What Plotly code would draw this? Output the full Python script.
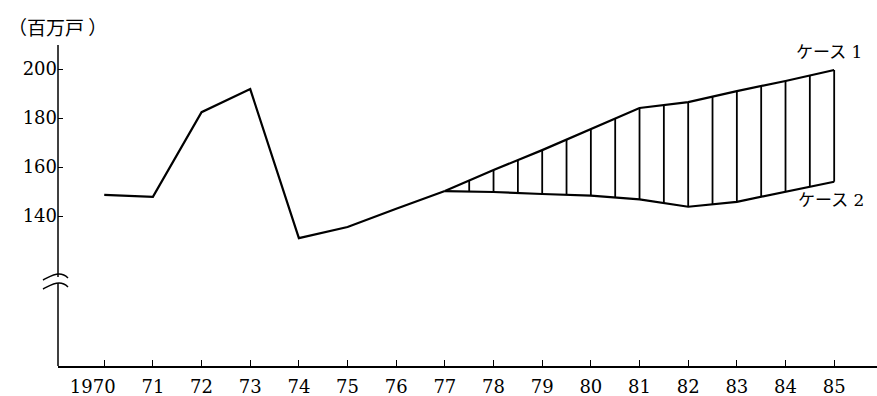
import plotly.graph_objects as go
import numpy as np

# ---- data ----
hist_years = [1970, 1971, 1972, 1973, 1974, 1975, 1976, 1977]
hist_values = [148.6, 147.8, 182.4, 191.8, 131.0, 135.5, 143.0, 150.2]
proj_years = [1977, 1978, 1979, 1980, 1981, 1982, 1983, 1984, 1985]
case1_values = [150.2, 158.8, 166.9, 175.5, 184.1, 186.5, 191.0, 195.1, 199.6]
case2_values = [150.2, 149.8, 149.0, 148.3, 146.8, 143.8, 145.8, 149.9, 154.0]
x_tick_vals = list(range(1970, 1986))
x_tick_text = ["1970\u2007\u2007"] + [str(y)[2:] for y in range(1971, 1986)]
y_tick_vals = [140, 160, 180, 200]
y_tick_text = ["140", "160", "180", "200"]
hatch_years = list(np.arange(1977.5, 1985.01, 0.5))

W, H = 877, 396
ML, MR, MT, MB = 58, 0, 45, 30
PW, PH = W - ML - MR, H - MT - MB

def px(xp):
    return (xp - ML) / PW

def py(yp):
    return (H - MB - yp) / PH

fig = go.Figure()

# hatch (vertical lines between the two cases)
hx, hy = [], []
for yr in hatch_years:
    lo = float(np.interp(yr, proj_years, case2_values))
    hi = float(np.interp(yr, proj_years, case1_values))
    hx += [yr, yr, None]
    hy += [lo, hi, None]
fig.add_trace(go.Scatter(x=hx, y=hy, mode="lines",
                         line=dict(color="black", width=1.8),
                         hoverinfo="skip", showlegend=False))

for xs, ys in [(hist_years, hist_values), (proj_years, case1_values),
               (proj_years, case2_values)]:
    fig.add_trace(go.Scatter(x=xs, y=ys, mode="lines",
                             line=dict(color="black", width=2.2),
                             showlegend=False))

num_font = "DejaVu Serif, Liberation Serif, serif"
kana_font = "DejaVu Serif, Noto Sans CJK JP, serif"

shapes = []
# y axis line with a break
shapes.append(dict(type="line", xref="paper", yref="paper",
                   x0=0, x1=0, y0=0, y1=1,
                   line=dict(color="black", width=1.5)))
shapes.append(dict(type="rect", xref="paper", yref="paper",
                   x0=px(55), x1=px(61), y0=py(283), y1=py(277),
                   fillcolor="white", line=dict(width=0), layer="above"))

def wave(y0):
    p = (f"M {px(43)},{py(y0+6)} C {px(49)},{py(y0+3)} {px(53)},{py(y0)} "
         f"{px(59)},{py(y0)} C {px(63)},{py(y0)} {px(66)},{py(y0+2)} {px(68)},{py(y0+4)}")
    return dict(type="path", xref="paper", yref="paper", path=p,
                line=dict(color="black", width=1.5), layer="above")

shapes.append(wave(274))
shapes.append(wave(283))

fig.update_layout(
    width=W, height=H,
    margin=dict(l=ML, r=MR, t=MT, b=MB, autoexpand=False),
    paper_bgcolor="white", plot_bgcolor="white",
    shapes=shapes,
    xaxis=dict(range=[1969.05, 1985.88], tickmode="array",
               tickvals=x_tick_vals, ticktext=x_tick_text,
               ticks="inside", ticklen=6, tickcolor="black", tickwidth=1.3,
               showline=True, linecolor="black", linewidth=1.5,
               showgrid=False, zeroline=False, automargin=False,
               ticklabelstandoff=4,
               tickfont=dict(family=num_font, size=18, color="black")),
    yaxis=dict(range=[78.8, 209.8], tickmode="array",
               tickvals=y_tick_vals, ticktext=y_tick_text,
               ticks="inside", ticklen=5, tickcolor="black", tickwidth=1.3,
               showline=False, showgrid=False, zeroline=False, automargin=False,
               tickfont=dict(family=num_font, size=18, color="black")),
    annotations=[
        dict(text="（百万戸 ）", xref="paper", yref="paper",
             x=px(6), y=py(27), xanchor="left", yanchor="middle",
             showarrow=False,
             font=dict(family="Noto Sans CJK JP", size=19, color="black")),
        dict(text="ケース 1", xref="paper", yref="paper",
             x=px(794), y=py(52), xanchor="left", yanchor="middle",
             showarrow=False,
             font=dict(family=kana_font, size=17, color="black")),
        dict(text="ケース 2", xref="paper", yref="paper",
             x=px(796), y=py(200), xanchor="left", yanchor="middle",
             showarrow=False,
             font=dict(family=kana_font, size=17, color="black")),
    ],
)

fig.write_html("out.html",
               config={"displayModeBar": False},
               post_script="document.body.style.margin='0';document.body.style.overflow='hidden';")
